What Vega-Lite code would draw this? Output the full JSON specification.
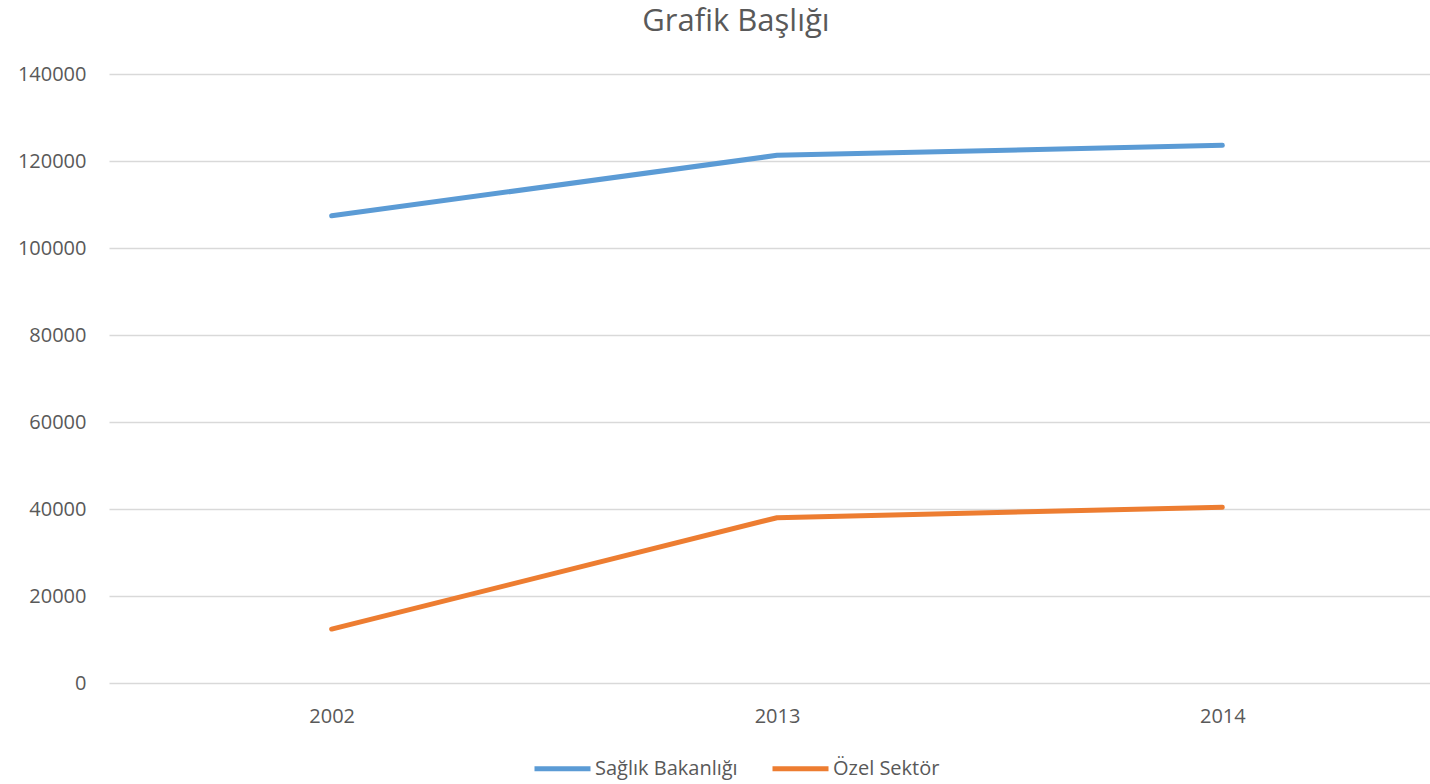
{
  "$schema": "https://vega.github.io/schema/vega-lite/v6.json",
  "width": 1336,
  "height": 609,
  "autosize": {"type": "none"},
  "padding": {"left": 109, "top": 74, "right": -15, "bottom": 101},
  "background": "white",
  "view": {"stroke": null},
  "title": {
    "text": "Grafik Başlığı",
    "font": "Open Sans",
    "fontSize": 31,
    "fontWeight": "normal",
    "color": "#595959",
    "anchor": "middle",
    "dx": -41,
    "dy": 30,
    "baseline": "alphabetic",
    "offset": 32
  },
  "data": {
    "values": [
      {"series": "Sağlık Bakanlığı", "year": "2002", "value": 107400},
      {"series": "Sağlık Bakanlığı", "year": "2013", "value": 121300},
      {"series": "Sağlık Bakanlığı", "year": "2014", "value": 123600},
      {"series": "Özel Sektör", "year": "2002", "value": 12400},
      {"series": "Özel Sektör", "year": "2013", "value": 38000},
      {"series": "Özel Sektör", "year": "2014", "value": 40400}
    ]
  },
  "mark": {"type": "line", "strokeWidth": 5, "strokeCap": "round", "strokeJoin": "round"},
  "encoding": {
    "x": {
      "field": "year",
      "type": "ordinal",
      "scale": {"type": "point", "padding": 0.5},
      "axis": {
        "title": null,
        "labelAngle": 0,
        "labelFont": "Open Sans",
        "labelFontSize": 20,
        "labelColor": "#595959",
        "labelPadding": 23,
        "ticks": false,
        "domain": false,
        "grid": false
      }
    },
    "y": {
      "field": "value",
      "type": "quantitative",
      "scale": {"domain": [0, 140000], "nice": false},
      "axis": {
        "title": null,
        "values": [0, 20000, 40000, 60000, 80000, 100000, 120000, 140000],
        "format": "d",
        "labelFont": "Open Sans",
        "labelFontSize": 20,
        "labelColor": "#595959",
        "labelPadding": 23,
        "ticks": false,
        "domain": false,
        "grid": true,
        "gridColor": "#D9D9D9",
        "gridWidth": 1.5
      }
    },
    "color": {
      "field": "series",
      "type": "nominal",
      "sort": ["Sağlık Bakanlığı", "Özel Sektör"],
      "scale": {"domain": ["Sağlık Bakanlığı", "Özel Sektör"], "range": ["#5B9BD5", "#ED7D31"]},
      "legend": {
        "title": null,
        "orient": "none",
        "direction": "horizontal",
        "legendX": 423,
        "legendY": 664,
        "symbolType": "stroke",
        "symbolSize": 3136,
        "symbolStrokeWidth": 5,
        "labelFont": "Open Sans",
        "labelFontSize": 20,
        "labelColor": "#595959",
        "labelOffset": 2,
        "columnPadding": 24
      }
    }
  }
}
